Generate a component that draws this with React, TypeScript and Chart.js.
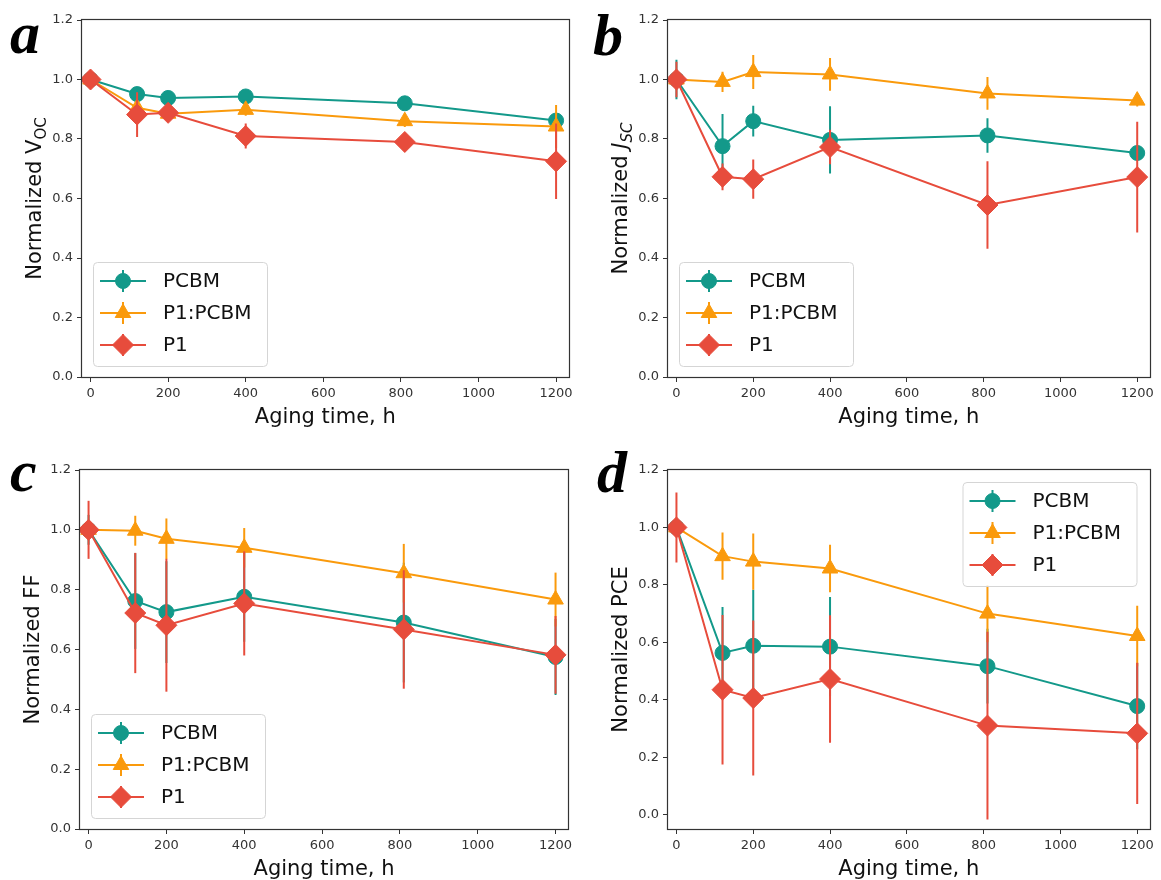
import React, { useEffect, useRef } from 'react';
import { Chart, registerables } from 'chart.js';

Chart.register(...registerables);

// ---------- data ----------
const agingHours = [0, 120, 200, 400, 810, 1200];
const xTickValues = [0, 200, 400, 600, 800, 1000, 1200];
const yTickValues = [0, 0.2, 0.4, 0.6, 0.8, 1.0, 1.2];
const seriesNames = ['PCBM', 'P1:PCBM', 'P1'];

// (a) Voc
const vocPcbm = [1.0, 0.951, 0.938, 0.943, 0.920, 0.862];
const vocPcbmErr = [0.01, 0.012, 0.01, 0.012, 0.012, 0.02];
const vocBlend = [1.0, 0.905, 0.885, 0.898, 0.860, 0.842];
const vocBlendErr = [0.015, 0.02, 0.02, 0.02, 0.02, 0.072];
const vocP1 = [1.0, 0.882, 0.888, 0.810, 0.790, 0.725];
const vocP1Err = [0.02, 0.075, 0.02, 0.042, 0.03, 0.127];

// (b) Jsc
const jscPcbm = [1.0, 0.776, 0.860, 0.797, 0.812, 0.753];
const jscPcbmErr = [0.066, 0.108, 0.052, 0.113, 0.058, 0.02];
const jscBlend = [1.0, 0.992, 1.025, 1.017, 0.953, 0.929];
const jscBlendErr = [0.02, 0.034, 0.057, 0.055, 0.055, 0.02];
const jscP1 = [1.0, 0.673, 0.665, 0.773, 0.578, 0.672];
const jscP1Err = [0.06, 0.045, 0.066, 0.058, 0.147, 0.186];

// (c) FF
const ffPcbm = [1.0, 0.762, 0.725, 0.776, 0.690, 0.575];
const ffPcbmErr = [0.05, 0.16, 0.17, 0.15, 0.2, 0.127];
const ffBlend = [1.0, 0.997, 0.970, 0.940, 0.855, 0.767];
const ffBlendErr = [0.02, 0.05, 0.068, 0.066, 0.098, 0.09];
const ffP1 = [1.0, 0.722, 0.681, 0.754, 0.667, 0.582];
const ffP1Err = [0.097, 0.201, 0.222, 0.174, 0.198, 0.13];

// (d) PCE
const pcePcbm = [1.0, 0.563, 0.588, 0.585, 0.517, 0.378];
const pcePcbmErr = [0.02, 0.16, 0.195, 0.173, 0.13, 0.15];
const pceBlend = [1.0, 0.900, 0.881, 0.857, 0.700, 0.622];
const pceBlendErr = [0.02, 0.082, 0.098, 0.083, 0.1, 0.105];
const pceP1 = [1.0, 0.435, 0.406, 0.472, 0.310, 0.283];
const pceP1Err = [0.122, 0.26, 0.27, 0.222, 0.327, 0.246];

// ---------- styles ----------
const COLORS = ['#13998a', '#fa9a0c', '#e74c3c'];
const STYLES = ['circle', 'triangle', 'rectRot'];
const RADII = [7.5, 9, 10.5];
const FONT = '"DejaVu Sans", sans-serif';

type Part = { t: string; italic?: boolean; sub?: boolean };

const panels = [
  {
    id: 'a', x: 0, y: 0, w: 580, h: 440, plot: [82, 20, 570, 377], yMin: 0, yMax: 1.2,
    yTitle: [{ t: 'Normalized V' }, { t: 'OC', sub: true }] as Part[],
    legend: 'll', letter: 'a', letterPos: [10, 53],
    values: [vocPcbm, vocBlend, vocP1], errors: [vocPcbmErr, vocBlendErr, vocP1Err],
  },
  {
    id: 'b', x: 580, y: 0, w: 581, h: 440, plot: [88, 20, 575, 377], yMin: 0, yMax: 1.2,
    yTitle: [{ t: 'Normalized ' }, { t: 'J', italic: true }, { t: 'SC', italic: true, sub: true }] as Part[],
    legend: 'll', letter: 'b', letterPos: [13, 55],
    values: [jscPcbm, jscBlend, jscP1], errors: [jscPcbmErr, jscBlendErr, jscP1Err],
  },
  {
    id: 'c', x: 0, y: 440, w: 580, h: 440, plot: [80, 30, 568, 389], yMin: 0, yMax: 1.2,
    yTitle: [{ t: 'Normalized FF' }] as Part[],
    legend: 'll', letter: 'c', letterPos: [10, 51],
    values: [ffPcbm, ffBlend, ffP1], errors: [ffPcbmErr, ffBlendErr, ffP1Err],
  },
  {
    id: 'd', x: 580, y: 440, w: 581, h: 440, plot: [88, 30, 575, 389], yMin: -0.05, yMax: 1.2,
    yTitle: [{ t: 'Normalized PCE' }] as Part[],
    legend: 'ur', letter: 'd', letterPos: [17, 52],
    values: [pcePcbm, pceBlend, pceP1], errors: [pcePcbmErr, pceBlendErr, pceP1Err],
  },
];

function markerPath(ctx: CanvasRenderingContext2D, style: string, x: number, y: number, r: number) {
  ctx.beginPath();
  if (style === 'circle') {
    ctx.arc(x, y, r, 0, Math.PI * 2);
  } else if (style === 'triangle') {
    ctx.moveTo(x, y - r);
    ctx.lineTo(x + Math.sin((2 * Math.PI) / 3) * r, y + 0.5 * r);
    ctx.lineTo(x - Math.sin((2 * Math.PI) / 3) * r, y + 0.5 * r);
  } else {
    ctx.moveTo(x - r, y);
    ctx.lineTo(x, y - r);
    ctx.lineTo(x + r, y);
    ctx.lineTo(x, y + r);
  }
  ctx.closePath();
}

function drawRich(ctx: CanvasRenderingContext2D, parts: Part[], cx: number, cy: number, size: number) {
  ctx.save();
  ctx.translate(cx, cy);
  ctx.rotate(-Math.PI / 2);
  ctx.fillStyle = '#111';
  ctx.textBaseline = 'alphabetic';
  ctx.textAlign = 'left';
  const subSize = Math.round(size * 0.7);
  const fontOf = (p: Part) => `${p.italic ? 'italic ' : ''}${p.sub ? subSize : size}px ${FONT}`;
  let total = 0;
  const widths = parts.map((p) => {
    ctx.font = fontOf(p);
    const w = ctx.measureText(p.t).width;
    total += w;
    return w;
  });
  let x = -total / 2;
  parts.forEach((p, i) => {
    ctx.font = fontOf(p);
    ctx.fillText(p.t, x, p.sub ? size * 0.22 : 0);
    x += widths[i];
  });
  ctx.restore();
}

function makeDecor(p: any) {
  return {
    id: 'decor' + p.id,
    beforeDatasetDraw(chart: any, args: any) {
      const ds = chart.data.datasets[args.index];
      const errs: number[] = ds.errs;
      const ys = chart.scales.y;
      const a = chart.chartArea;
      const ctx: CanvasRenderingContext2D = chart.ctx;
      ctx.save();
      ctx.beginPath();
      ctx.rect(a.left, a.top, a.right - a.left, a.bottom - a.top);
      ctx.clip();
      ctx.strokeStyle = ds.borderColor;
      ctx.lineWidth = 2;
      args.meta.data.forEach((el: any, i: number) => {
        const v = ds.data[i].y;
        const e = errs[i];
        ctx.beginPath();
        ctx.moveTo(el.x, ys.getPixelForValue(v + e));
        ctx.lineTo(el.x, ys.getPixelForValue(v - e));
        ctx.stroke();
      });
      ctx.restore();
    },
    afterDatasetsDraw(chart: any) {
      const a = chart.chartArea;
      const ctx: CanvasRenderingContext2D = chart.ctx;
      ctx.save();
      ctx.strokeStyle = '#333';
      ctx.lineWidth = 1.2;
      ctx.strokeRect(Math.round(a.left) - 0.5, Math.round(a.top) - 0.5, Math.round(a.right - a.left) + 1, Math.round(a.bottom - a.top) + 1);
      ctx.restore();
    },
    afterDraw(chart: any) {
      const a = chart.chartArea;
      const ctx: CanvasRenderingContext2D = chart.ctx;
      // legend
      const bw = 174, bh = 104, m = 11;
      const bx = p.legend === 'll' ? a.left + m : a.right - 13 - bw;
      const by = p.legend === 'll' ? a.bottom - m - bh : a.top + 12;
      ctx.save();
      ctx.beginPath();
      if ((ctx as any).roundRect) (ctx as any).roundRect(bx + 0.5, by + 0.5, bw, bh, 4);
      else ctx.rect(bx + 0.5, by + 0.5, bw, bh);
      ctx.fillStyle = 'rgba(255,255,255,0.85)';
      ctx.fill();
      ctx.strokeStyle = '#d5d5d5';
      ctx.lineWidth = 1;
      ctx.stroke();
      seriesNames.forEach((name, i) => {
        const cy = by + 19 + 32 * i;
        const mx = bx + 30;
        ctx.strokeStyle = COLORS[i];
        ctx.lineWidth = 2;
        ctx.beginPath();
        ctx.moveTo(bx + 7, cy);
        ctx.lineTo(bx + 53, cy);
        ctx.moveTo(mx, cy - 11);
        ctx.lineTo(mx, cy + 11);
        ctx.stroke();
        markerPath(ctx, STYLES[i], mx, cy, RADII[i]);
        ctx.fillStyle = COLORS[i];
        ctx.fill();
        ctx.lineWidth = 1;
        ctx.stroke();
        ctx.fillStyle = '#111';
        ctx.font = `20px ${FONT}`;
        ctx.textBaseline = 'middle';
        ctx.textAlign = 'left';
        ctx.fillText(name, bx + 70, cy + 1);
      });
      ctx.restore();
      // axis titles
      drawRich(ctx, p.yTitle, a.left - 41, (a.top + a.bottom) / 2, 21);
      ctx.save();
      ctx.fillStyle = '#111';
      ctx.font = `21px ${FONT}`;
      ctx.textAlign = 'center';
      ctx.textBaseline = 'alphabetic';
      ctx.fillText('Aging time, h', (a.left + a.right) / 2, a.bottom + 46);
      // panel letter
      ctx.font = `italic bold 60px "Liberation Serif", serif`;
      ctx.textAlign = 'left';
      ctx.fillStyle = '#000';
      ctx.fillText(p.letter, p.letterPos[0], p.letterPos[1]);
      ctx.restore();
    },
  };
}

function buildConfig(p: any) {
  const [pl, pt, pr, pb] = p.plot;
  const tickFont = { family: FONT, size: 13 };
  const grid = { drawOnChartArea: false, drawTicks: true, tickLength: 5, color: '#333', lineWidth: 1 };
  return {
    type: 'line',
    data: {
      datasets: seriesNames.map((name, i) => ({
        label: name,
        data: agingHours.map((x, j) => ({ x, y: p.values[i][j] })),
        errs: p.errors[i],
        borderColor: COLORS[i],
        backgroundColor: COLORS[i],
        pointBackgroundColor: COLORS[i],
        pointBorderColor: COLORS[i],
        pointStyle: STYLES[i],
        pointRadius: RADII[i],
        pointBorderWidth: 1,
        borderWidth: 2,
        tension: 0,
        fill: false,
        order: 3 - i,
      })),
    },
    options: {
      responsive: false,
      animation: false,
      devicePixelRatio: 1,
      events: [],
      layout: { padding: { left: 0, top: pt, right: p.w - pr, bottom: 0 } },
      plugins: { legend: { display: false }, tooltip: { enabled: false }, title: { display: false } },
      scales: {
        x: {
          type: 'linear',
          min: -22,
          max: 1232,
          afterFit: (s: any) => { s.height = p.h - pb; },
          afterBuildTicks: (s: any) => { s.ticks = xTickValues.map((v) => ({ value: v })); },
          grid,
          border: { display: false },
          ticks: { font: tickFont, color: '#333', padding: 4, maxRotation: 0, autoSkip: false, callback: (v: any) => String(v) },
        },
        y: {
          type: 'linear',
          min: p.yMin,
          max: p.yMax,
          afterFit: (s: any) => { s.width = pl; },
          afterBuildTicks: (s: any) => { s.ticks = yTickValues.map((v) => ({ value: v })); },
          grid,
          border: { display: false },
          ticks: { font: tickFont, color: '#333', padding: 4, autoSkip: false, callback: (v: any) => Number(v).toFixed(1) },
        },
      },
    },
    plugins: [makeDecor(p)],
  };
}

function Panel({ p }: { p: any }) {
  const ref = useRef<HTMLCanvasElement | null>(null);
  useEffect(() => {
    if (!ref.current) return;
    const chart = new Chart(ref.current, buildConfig(p) as any);
    return () => chart.destroy();
  }, []);
  return (
    <canvas
      ref={ref}
      width={p.w}
      height={p.h}
      style={{ position: 'absolute', left: p.x, top: p.y, width: p.w, height: p.h }}
    />
  );
}

export default function App() {
  return (
    <div style={{ position: 'absolute', left: 0, top: 0, width: 1161, height: 880, background: '#fff', overflow: 'hidden' }}>
      {panels.map((p) => (
        <Panel key={p.id} p={p} />
      ))}
    </div>
  );
}
